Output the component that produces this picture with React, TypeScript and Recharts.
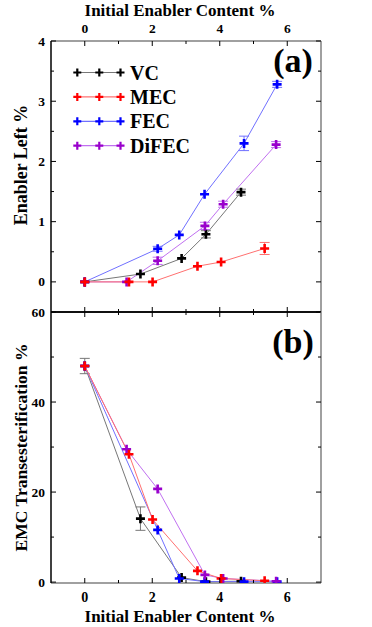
import React from "react";
import { LineChart, Line, XAxis, YAxis, ErrorBar } from "recharts";

// x positions (initial enabler content %) per series
const vcX = [0, 1.65, 2.87, 3.59, 4.63];
const mecX = [0, 1.31, 2.01, 3.34, 4.04, 5.33];
const fecX = [0, 2.16, 2.8, 3.55, 4.72, 5.7];
const difecX = [0, 1.24, 2.16, 3.56, 4.1, 5.67];

// panel (a): enabler left %
const vcLeft = [0, 0.13, 0.39, 0.79, 1.49];
const vcLeftErr = [0, 0, 0, 0.06, 0.05];
const mecLeft = [0, 0, 0, 0.26, 0.33, 0.555];
const mecLeftErr = [0, 0, 0, 0, 0, 0.1];
const fecLeft = [0, 0.55, 0.78, 1.455, 2.3, 3.28];
const fecLeftErr = [0, 0.04, 0, 0, 0.12, 0.05];
const difecLeft = [0, 0, 0.35, 0.93, 1.29, 2.28];
const difecLeftErr = [0, 0, 0.06, 0.06, 0.05, 0.05];

// panel (b): EMC transesterification %
const vcTrans = [48, 14.1, 1.0, 0.1, 0.2];
const vcTransErr = [1.7, 2.6, 0, 0, 0];
const mecTrans = [48, 28.4, 13.9, 2.5, 0.8, 0.3];
const fecTrans = [48, 11.6, 0.8, 0.1, 0.1, 0.1];
const difecTrans = [48, 29.5, 20.7, 1.6, 0.8, 0.2];

const seriesNames = ["VC", "MEC", "FEC", "DiFEC"];
const markColors = ["#000000", "#ff0000", "#0000ff", "#9900cc"];
const lineColors = ["#777777", "#ff7070", "#7070ff", "#c070f0"];

const xTicks = [0, 1, 2, 3, 4, 5, 6];
const xMajor = [0, 2, 4, 6];
const leftTicks = [0, 0.5, 1, 1.5, 2, 2.5, 3, 3.5, 4];
const leftMajor = [0, 1, 2, 3, 4];
const transTicks = [0, 10, 20, 30, 40, 50, 60];
const transMajor = [0, 20, 40, 60];

const FONT = '"Liberation Serif", "Times New Roman", serif';

const rows = (xs: number[], ys: number[], es: number[] | null) =>
  xs.map((x, i) => ({ x, y: ys[i], e: es ? es[i] : 0 }));

const panelA = [
  rows(vcX, vcLeft, vcLeftErr),
  rows(mecX, mecLeft, mecLeftErr),
  rows(fecX, fecLeft, fecLeftErr),
  rows(difecX, difecLeft, difecLeftErr),
];
const panelB = [
  rows(vcX, vcTrans, vcTransErr),
  rows(mecX, mecTrans, null),
  rows(fecX, fecTrans, null),
  rows(difecX, difecTrans, null),
];

// draw order: VC, FEC, DiFEC, MEC on top
const order = [0, 2, 3, 1];

function plus(color: string, r: number, w: number) {
  return (p: any) => {
    const { cx, cy, index } = p;
    return (
      <path
        key={"d" + index}
        d={`M${cx - r},${cy}h${2 * r}M${cx},${cy - r}v${2 * r}`}
        stroke={color}
        strokeWidth={w}
        fill="none"
      />
    );
  };
}

// dy: inward direction of the tick mark; labDy: label offset (null = no label)
function xTick(dy: number, major: number[], labDy: number | null, size: number) {
  return (p: any) => {
    const { x, y, payload } = p;
    const big = major.includes(payload.value);
    return (
      <g>
        <line x1={x} x2={x} y1={y} y2={y + dy * (big ? 5 : 3)} stroke="#000" strokeWidth={1} />
        {labDy !== null && big && (
          <text x={x} y={y + labDy} textAnchor="middle" fontFamily={FONT} fontWeight={700} fontSize={size} fill="#000">
            {payload.value}
          </text>
        )}
      </g>
    );
  };
}

function yTick(dx: number, major: number[], label: boolean) {
  return (p: any) => {
    const { x, y, payload } = p;
    const big = major.includes(payload.value);
    return (
      <g>
        <line x1={x} x2={x + dx * (big ? 5 : 3)} y1={y} y2={y} stroke="#000" strokeWidth={1} />
        {label && big && (
          <text x={x - 6} y={y + 4.5} textAnchor="end" fontFamily={FONT} fontWeight={700} fontSize={13.5} fill="#000">
            {payload.value}
          </text>
        )}
      </g>
    );
  };
}

function seriesLines(data: { x: number; y: number; e: number }[][]) {
  return order.map((i) => (
    <Line
      key={seriesNames[i]}
      data={data[i]}
      dataKey="y"
      xAxisId="main"
      yAxisId="l"
      type="linear"
      stroke={lineColors[i]}
      strokeWidth={1}
      dot={plus(markColors[i], 4.5, 2.6)}
      activeDot={false}
      isAnimationActive={false}
    >
      <ErrorBar dataKey="e" direction="y" width={5} stroke={lineColors[i]} strokeWidth={1} isAnimationActive={false} />
    </Line>
  ));
}

function Legend() {
  return (
    <g>
      {seriesNames.map((n, i) => {
        const y = 72.5 + i * 24.4;
        const mk = plus(markColors[i], 4, 2.2);
        return (
          <g key={n}>
            <line x1={77} x2={121} y1={y} y2={y} stroke={lineColors[i]} strokeWidth={1.2} />
            {[77.3, 99.3, 120.5].map((cx, k) => mk({ cx, cy: y, index: n + k }))}
            <text x={130} y={y + 7} fontFamily={FONT} fontWeight={700} fontSize={20} fill="#000">
              {n}
            </text>
          </g>
        );
      })}
    </g>
  );
}

const xAxisCommon = {
  type: "number" as const,
  dataKey: "x",
  domain: [-1, 7],
  ticks: xTicks,
  interval: 0,
  tickSize: 0,
  tickMargin: 0,
  tickLine: false,
  allowDataOverflow: true,
};

export default function App() {
  const frame = "#808080";
  return (
    <div style={{ position: "absolute", left: 0, top: 0, width: 372, height: 627, background: "#fff" }}>
      <style>{".recharts-surface { overflow: visible; }"}</style>
      <div style={{ position: "absolute", left: 0, top: 0 }}>
        <LineChart width={372} height={313} margin={{ top: 0, right: 0, bottom: 0, left: 0 }}>
          <XAxis
            {...xAxisCommon}
            xAxisId="main"
            orientation="top"
            height={41}
            axisLine={{ stroke: frame, strokeWidth: 1.5 }}
            tick={xTick(1, xMajor, -7.7, 13.5)}
          />
          <XAxis
            {...xAxisCommon}
            xAxisId="b"
            orientation="bottom"
            height={1}
            axisLine={{ stroke: "#000", strokeWidth: 1.5 }}
            tick={xTick(-1, xMajor, null, 13)}
          />
          <YAxis
            yAxisId="l"
            type="number"
            domain={[-0.5, 4]}
            ticks={leftTicks}
            interval={0}
            width={51}
            tickSize={0}
            tickMargin={0}
            tickLine={false}
            axisLine={{ stroke: "#000", strokeWidth: 1.5 }}
            tick={yTick(1, leftMajor, true)}
            allowDataOverflow
          />
          <YAxis
            yAxisId="r"
            orientation="right"
            type="number"
            domain={[-0.5, 4]}
            ticks={leftTicks}
            interval={0}
            width={51}
            tickSize={0}
            tickMargin={0}
            tickLine={false}
            axisLine={{ stroke: frame, strokeWidth: 1.5 }}
            tick={yTick(-1, leftMajor, false)}
            allowDataOverflow
          />
          {seriesLines(panelA)}
        </LineChart>
      </div>
      <div style={{ position: "absolute", left: 0, top: 311 }}>
        <LineChart width={372} height={316} margin={{ top: 0, right: 0, bottom: 0, left: 0 }}>
          <XAxis
            {...xAxisCommon}
            xAxisId="t"
            orientation="top"
            height={1}
            axisLine={{ stroke: "#000", strokeWidth: 1.5 }}
            tick={xTick(1, xMajor, null, 13)}
          />
          <XAxis
            {...xAxisCommon}
            xAxisId="main"
            orientation="bottom"
            height={44}
            axisLine={{ stroke: frame, strokeWidth: 1.5 }}
            tick={xTick(-1, xMajor, 19.4, 14)}
          />
          <YAxis
            yAxisId="l"
            type="number"
            domain={[-0.2, 60]}
            ticks={transTicks}
            interval={0}
            width={51}
            tickSize={0}
            tickMargin={0}
            tickLine={false}
            axisLine={{ stroke: "#000", strokeWidth: 1.5 }}
            tick={yTick(1, transMajor, true)}
            allowDataOverflow
          />
          <YAxis
            yAxisId="r"
            orientation="right"
            type="number"
            domain={[-0.2, 60]}
            ticks={transTicks}
            interval={0}
            width={51}
            tickSize={0}
            tickMargin={0}
            tickLine={false}
            axisLine={{ stroke: frame, strokeWidth: 1.5 }}
            tick={yTick(-1, transMajor, false)}
            allowDataOverflow
          />
          {seriesLines(panelB)}
        </LineChart>
      </div>
      <svg
        width={372}
        height={627}
        style={{ position: "absolute", left: 0, top: 0, pointerEvents: "none" }}
      >
        <g fontFamily={FONT} fontWeight={700} fill="#000">
          <text x={180} y={16} textAnchor="middle" fontSize={17}>
            Initial Enabler Content %
          </text>
          <text x={180} y={621.5} textAnchor="middle" fontSize={17}>
            Initial Enabler Content %
          </text>
          <text x={26.5} y={165} textAnchor="middle" fontSize={18} transform="rotate(-90 26.5 165)">
            Enabler Left %
          </text>
          <text
            x={27}
            y={447.5}
            textAnchor="middle"
            fontSize={17}
            textLength={208}
            lengthAdjust="spacingAndGlyphs"
            transform="rotate(-90 27 447.5)"
          >
            EMC Transesterification %
          </text>
          <text x={293} y={72} textAnchor="middle" fontSize={34}>
            (a)
          </text>
          <text x={293} y={353} textAnchor="middle" fontSize={34}>
            (b)
          </text>
        </g>
        <Legend />
      </svg>
    </div>
  );
}
